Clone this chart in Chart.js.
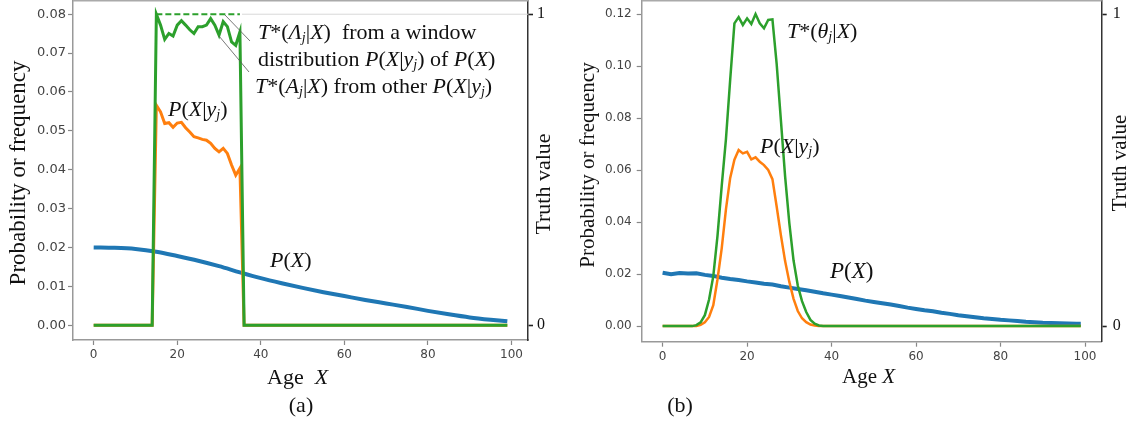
<!DOCTYPE html>
<html>
<head>
<meta charset="utf-8">
<script src="https://cdn.jsdelivr.net/npm/chart.js@4.4.0/dist/chart.umd.min.js"></script>
<style>
  body { margin: 0; background: #fff; width: 1137px; height: 427px; overflow: hidden; position: relative; }
  #wa { position: absolute; left: 0; top: 0; width: 565px; height: 427px; }
  #wb { position: absolute; left: 565px; top: 0; width: 572px; height: 427px; }
</style>
</head>
<body>
<div id="wa"><canvas id="ca" width="565" height="427"></canvas></div>
<div id="wb"><canvas id="cb" width="572" height="427"></canvas></div>
<script>
// ticks
const ageTicks = [0, 20, 40, 60, 80, 100];
const probTicksA = [0, 0.01, 0.02, 0.03, 0.04, 0.05, 0.06, 0.07, 0.08];
const probTicksB = [0, 0.02, 0.04, 0.06, 0.08, 0.10, 0.12];
const truthTicks = [0, 1];

// (a) P(X)
const blueAgesA = [0, 5, 10, 15, 20, 25, 30, 35, 40, 45, 50, 55, 60, 65, 70, 75, 80, 85, 90, 95, 99];
const blueA = [0.0200, 0.0199, 0.0196, 0.0189, 0.0178, 0.0166, 0.0152, 0.0136, 0.0121, 0.0108, 0.0096,
  0.0085, 0.0075, 0.0065, 0.0056, 0.0047, 0.0037, 0.0028, 0.0020, 0.0014, 0.0010];

// (a) P(X|yj)
const orangeAgesA = [0, 14, 15, 16, 17, 18, 19, 20, 21, 22, 23, 24, 25, 26, 27, 28, 29, 30, 31, 32, 33, 34, 35, 36, 99];
const orangeA = [0, 0, 0.0566, 0.0549, 0.0519, 0.0521, 0.0509, 0.0520, 0.0522, 0.0508, 0.0497, 0.0485, 0.0482,
  0.0478, 0.0476, 0.0468, 0.0455, 0.0446, 0.0455, 0.0442, 0.0412, 0.0386, 0.0404, 0, 0];

// (a) T*(theta_j|X), truth value
const greenAgesA = orangeAgesA;
const greenA = [0, 0, 1.0, 0.965, 0.919, 0.938, 0.930, 0.965, 0.979, 0.965, 0.950, 0.938, 0.960,
  0.960, 0.965, 0.986, 0.965, 0.933, 0.976, 0.960, 0.911, 0.900, 0.943, 0, 0];
const windowAges = [15, 35];
const windowTop = [1, 1];
const refAges = [35.5, 103.95];
const refTop = [1, 1];

// (b) P(X)
const blueAgesB = [0, 2, 4, 6, 8, 10, 12, 14, 16, 18, 20, 22, 24, 26, 28, 30, 32, 34, 36, 38, 40, 42, 44, 46, 48,
  50, 52, 54, 56, 58, 60, 62, 64, 66, 68, 70, 72, 74, 76, 78, 80, 82, 84, 86, 88, 90, 92, 94, 96, 98, 99];
const blueB = [0.0205, 0.0199, 0.0204, 0.0202, 0.0203, 0.0197, 0.0193, 0.0186, 0.0181, 0.0177,
  0.0172, 0.0168, 0.0163, 0.0160, 0.0153, 0.0148, 0.0143, 0.0138, 0.0132, 0.0126,
  0.0121, 0.0116, 0.0110, 0.0104, 0.0098, 0.0093, 0.0088, 0.0083, 0.0077, 0.0071,
  0.0066, 0.0061, 0.0057, 0.0051, 0.0047, 0.0042, 0.0038, 0.0034, 0.0030, 0.0027,
  0.0024, 0.0022, 0.0020, 0.0017, 0.0015, 0.0013, 0.0012, 0.0011, 0.0010, 0.0009, 0.0009];

// (b) P(X|yj)
const orangeAgesB = [0, 8, 9, 10, 11, 12, 13, 14, 15, 16, 17, 18, 19, 20, 21, 22, 23, 24, 25, 26, 27, 28, 29, 30,
  31, 32, 33, 34, 35, 36, 37, 99];
const orangeB = [0, 0, 0.0005, 0.0015, 0.0035, 0.008, 0.018, 0.030, 0.045, 0.057, 0.064, 0.0677, 0.0664, 0.0670,
  0.0641, 0.0649, 0.0632, 0.0619, 0.0600, 0.0565, 0.0460, 0.0350, 0.0250, 0.0170, 0.0105, 0.0058, 0.0030,
  0.0015, 0.0006, 0.0002, 0, 0];

// (b) T*(theta_j|X)
const greenAgesB = [0, 7, 8, 9, 10, 11, 12, 13, 14, 15, 16, 17, 18, 19, 20, 21, 22, 23, 24, 25, 26, 27, 28, 29,
  30, 31, 32, 33, 34, 35, 36, 37, 38, 99];
const greenB = [0, 0, 0.003, 0.012, 0.035, 0.085, 0.16, 0.29, 0.45, 0.60, 0.79, 0.97, 0.99, 0.965, 0.986, 0.968,
  1.0, 0.97, 0.954, 0.981, 0.983, 0.84, 0.66, 0.48, 0.33, 0.21, 0.13, 0.08, 0.045, 0.02, 0.008, 0.002, 0, 0];

const BLUE = "#1f77b4", ORANGE = "#ff7f0e", GREEN = "#2ca02c";
const SERIF = '"Liberation Serif", "Times New Roman", serif';
Chart.defaults.font.family = '"DejaVu Sans", sans-serif';

const pts = (xs, ys) => xs.map((x, i) => ({ x: x, y: ys[i] }));

// draw a line of text made of runs: n = normal, i = italic, s = italic subscript
function rich(ctx, runs, x, y, size) {
  ctx.textBaseline = "middle";
  ctx.textAlign = "left";
  ctx.fillStyle = "#111";
  runs.forEach(([t, st]) => {
    const sz = st === "s" ? Math.round(size * 0.65) : size;
    ctx.font = (st === "n" ? "" : "italic ") + sz + "px " + SERIF;
    ctx.fillText(t, x, y + (st === "s" ? size * 0.22 : 0));
    x += ctx.measureText(t).width;
  });
}

function vtext(ctx, t, cx, cy, size) {
  ctx.save();
  ctx.translate(cx, cy);
  ctx.rotate(-Math.PI / 2);
  ctx.textAlign = "center";
  ctx.textBaseline = "middle";
  ctx.fillStyle = "#111";
  ctx.font = size + "px " + SERIF;
  ctx.fillText(t, 0, 0);
  ctx.restore();
}

const PXY = [["P", "i"], ["(", "n"], ["X", "i"], ["|", "n"], ["y", "i"], ["j", "s"], [")", "n"]];
const PX = [["P", "i"], ["(", "n"], ["X", "i"], [")", "n"]];

function makeChart(id, c) {
  const setTicks = vals => s => { s.ticks = vals.map(v => ({ value: v })); };
  return new Chart(document.getElementById(id), {
    type: "line",
    data: { datasets: c.datasets },
    options: {
      responsive: false,
      animation: false,
      layout: { padding: { top: 1, left: 0, right: 0, bottom: 0 } },
      plugins: { legend: { display: false }, tooltip: { enabled: false } },
      elements: { point: { radius: 0 }, line: { tension: 0 } },
      scales: {
        x: {
          type: "linear", min: -4.95, max: 103.95,
          afterBuildTicks: setTicks(ageTicks),
          ticks: { color: "#444", font: { size: 12 }, padding: 3, maxRotation: 0, autoSkip: false },
          grid: { drawOnChartArea: false, tickLength: 5, color: "#888", tickWidth: 1.2 },
          border: { color: "#999", width: 1.5 },
          afterFit: s => { s.height = c.h - c.bottom; s.paddingLeft = 0; s.paddingRight = 0; }
        },
        y: {
          position: "left", min: c.yMin, max: c.yMax,
          afterBuildTicks: setTicks(c.yTicks),
          ticks: { color: "#444", font: { size: c.yFont }, padding: c.yPad, callback: v => v.toFixed(2) },
          grid: { drawOnChartArea: false, tickLength: 5, color: "#888", tickWidth: 1.2 },
          border: { color: "#999", width: 1.5 },
          afterFit: s => { s.width = c.left; s.paddingTop = 0; s.paddingBottom = 0; }
        },
        y1: {
          position: "right", min: c.yMin / c.yTop, max: c.yMax / c.yTop,
          afterBuildTicks: setTicks(truthTicks),
          ticks: { color: "#111", font: { family: SERIF, size: 16 }, padding: c.y1Pad },
          grid: { drawOnChartArea: false, tickLength: 5, color: "#222", tickWidth: 1.6 },
          border: { color: "#333", width: 1.5 },
          afterFit: s => { s.width = c.w - c.right; s.paddingTop = 0; s.paddingBottom = 0; }
        }
      }
    },
    plugins: [{
      id: "notes",
      afterDraw(chart) {
        const ctx = chart.ctx, a = chart.chartArea;
        ctx.save();
        ctx.strokeStyle = "#aaa";
        ctx.lineWidth = 1.5;
        ctx.beginPath();
        ctx.moveTo(a.left, a.top - 0.25);
        ctx.lineTo(a.right, a.top - 0.25);
        ctx.stroke();
        c.draw(ctx);
        ctx.restore();
      }
    }]
  });
}

makeChart("ca", {
  w: 565, h: 427, left: 73, right: 528, bottom: 340,
  yMin: -0.0038, yMax: 0.0834, yTop: 0.08, yTicks: probTicksA, yFont: 13, yPad: 2, y1Pad: 4,
  datasets: [
    { data: pts(greenAgesA, greenA), yAxisID: "y1", borderColor: GREEN, borderWidth: 3 },
    { data: pts(windowAges, windowTop), yAxisID: "y1", borderColor: GREEN, borderWidth: 2, borderDash: [6, 3] },
    { data: pts(refAges, refTop), yAxisID: "y1", borderColor: "#d8d8d8", borderWidth: 1 },
    { data: pts(orangeAgesA, orangeA), yAxisID: "y", borderColor: ORANGE, borderWidth: 3 },
    { data: pts(blueAgesA, blueA), yAxisID: "y", borderColor: BLUE, borderWidth: 4, cubicInterpolationMode: "monotone" }
  ],
  draw(ctx) {
    ctx.strokeStyle = "#555";
    ctx.lineWidth = 0.8;
    ctx.beginPath();
    ctx.moveTo(225, 15); ctx.lineTo(250, 41);
    ctx.moveTo(219, 36); ctx.lineTo(249, 72);
    ctx.stroke();
    rich(ctx, [["T", "i"], ["*(", "n"], ["Λ", "i"], ["j", "s"], ["|", "n"], ["X", "i"], [")", "n"], ["  from a window", "n"]], 258, 33, 22);
    rich(ctx, [["distribution ", "n"], ...PXY, [" of ", "n"], ...PX], 258, 60, 22);
    rich(ctx, [["T", "i"], ["*(", "n"], ["A", "i"], ["j", "s"], ["|", "n"], ["X", "i"], [")", "n"], [" from other ", "n"], ...PXY], 255, 87, 22);
    rich(ctx, PXY, 168, 110, 22);
    rich(ctx, PX, 270, 261, 22);
    rich(ctx, [["Age  ", "n"], ["X", "i"]], 267, 378, 22);
    vtext(ctx, "Probability or frequency", 19, 173, 23);
    vtext(ctx, "Truth value", 544, 184, 22);
    ctx.textAlign = "center";
    ctx.font = "22px " + SERIF;
    ctx.fillText("(a)", 301, 406);
  }
});

makeChart("cb", {
  w: 572, h: 427, left: 76.7, right: 536.7, bottom: 341.7,
  yMin: -0.006, yMax: 0.125, yTop: 0.12, yTicks: probTicksB, yFont: 12, yPad: 5, y1Pad: 6,
  datasets: [
    { data: pts(greenAgesB, greenB), yAxisID: "y1", borderColor: GREEN, borderWidth: 2.5 },
    { data: pts(orangeAgesB, orangeB), yAxisID: "y", borderColor: ORANGE, borderWidth: 2.5 },
    { data: pts(blueAgesB, blueB), yAxisID: "y", borderColor: BLUE, borderWidth: 4 }
  ],
  draw(ctx) {
    rich(ctx, [["T", "i"], ["*(", "n"], ["θ", "i"], ["j", "s"], ["|", "n"], ["X", "i"], [")", "n"]], 222, 32, 22);
    rich(ctx, PXY, 195, 147, 22);
    rich(ctx, PX, 265, 272, 23);
    rich(ctx, [["Age ", "n"], ["X", "i"]], 277, 377, 21);
    vtext(ctx, "Probability or frequency", 23, 165, 21);
    vtext(ctx, "Truth value", 555, 163, 21);
    ctx.textAlign = "center";
    ctx.font = "22px " + SERIF;
    ctx.fillText("(b)", 115, 406);
  }
});
</script>
</body>
</html>
